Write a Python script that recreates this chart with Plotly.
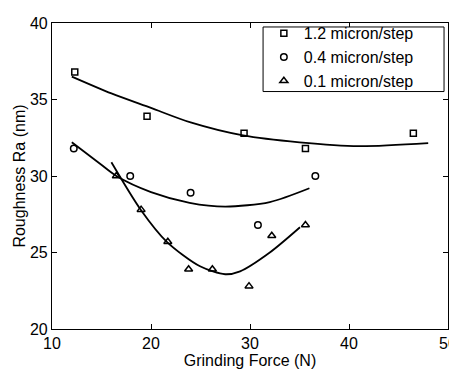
import plotly.graph_objects as go

# Measured data points
sq_x = [12.3, 19.6, 29.4, 35.6, 46.5]
sq_y = [36.8, 33.9, 32.8, 31.8, 32.8]
ci_x = [12.2, 17.9, 24.0, 30.8, 36.6]
ci_y = [31.8, 30.0, 28.9, 26.8, 30.0]
tr_x = [16.5, 19.0, 21.7, 23.8, 26.2, 29.9, 32.2, 35.6]
tr_y = [30.0, 27.8, 25.7, 23.9, 23.9, 22.8, 26.1, 26.8]

# Fitted curves
sq_fit_x = [12.0, 16.0, 20.0, 24.0, 29.3, 35.0, 41.0, 48.0]
sq_fit_y = [36.5, 35.4, 34.45, 33.5, 32.65, 32.2, 31.95, 32.15]
ci_fit_x = [12.0, 14.85, 16.5, 20.0, 23.9, 27.5, 32.0, 36.0]
ci_fit_y = [32.2, 30.8, 30.0, 28.95, 28.25, 28.0, 28.3, 29.2]
tr_fit_x = [16.0, 18.96, 21.6, 24.95, 27.5, 29.0, 32.0, 35.05]
tr_fit_y = [30.9, 27.8, 25.7, 24.1, 23.58, 23.77, 25.0, 26.65]

names = ["1.2 micron/step", "0.4 micron/step", "0.1 micron/step"]
xticks = [10, 20, 30, 40, 50]
yticks = [20, 25, 30, 35, 40]

FONT = "Liberation Sans, Arial, sans-serif"

fig = go.Figure()
for fx, fy in [(sq_fit_x, sq_fit_y), (ci_fit_x, ci_fit_y), (tr_fit_x, tr_fit_y)]:
    fig.add_trace(go.Scatter(x=fx, y=fy, mode="lines",
                             line=dict(color="black", width=1.8, shape="spline", smoothing=0.8),
                             showlegend=False, hoverinfo="skip"))

mk = [("square-open", 6), ("circle-open", 6.5), ("triangle-up-open", 7)]
for (x, y), nm, (sym, sz) in zip([(sq_x, sq_y), (ci_x, ci_y), (tr_x, tr_y)], names, mk):
    fig.add_trace(go.Scatter(x=x, y=y, mode="markers", name=nm,
                             marker=dict(symbol=sym, size=sz, color="black",
                                         line=dict(width=1.5, color="black"))))

axis_common = dict(showline=True, linecolor="black", linewidth=1.2, mirror="ticks",
                   ticks="inside", ticklen=5, tickcolor="black", tickwidth=1,
                   showgrid=False, zeroline=False, automargin=False,
                   ticklabeloverflow="allow",
                   tickfont=dict(family=FONT, size=16, color="black"))

# legend frame
fig.add_shape(type="rect", xref="paper", yref="paper", x0=0.533, x1=0.990, y0=0.776, y1=0.987,
              line=dict(color="black", width=1), fillcolor="white", layer="above")

# page body adds an 8px offset, so the figure is sized to the remaining window
fig.update_layout(
    width=449, height=364,
    margin=dict(l=44, r=9, t=8, b=43),
    paper_bgcolor="white", plot_bgcolor="white",
    font=dict(family=FONT, size=16, color="black"),
    xaxis=dict(range=[10, 50], tickvals=xticks, ticklabelstandoff=0,
               title=dict(text="Grinding Force (N)", standoff=0, font=dict(size=16)), **axis_common),
    yaxis=dict(range=[20, 40], tickvals=yticks, ticklabelstandoff=0,
               title=dict(text="Roughness Ra (nm)", standoff=0, font=dict(size=16)), **axis_common),
    legend=dict(x=0.535, y=1.022, xanchor="left", yanchor="top", borderwidth=0,
                bgcolor="rgba(0,0,0,0)", font=dict(size=16), tracegroupgap=0, itemwidth=30),
)

fig.write_html("out.html")
